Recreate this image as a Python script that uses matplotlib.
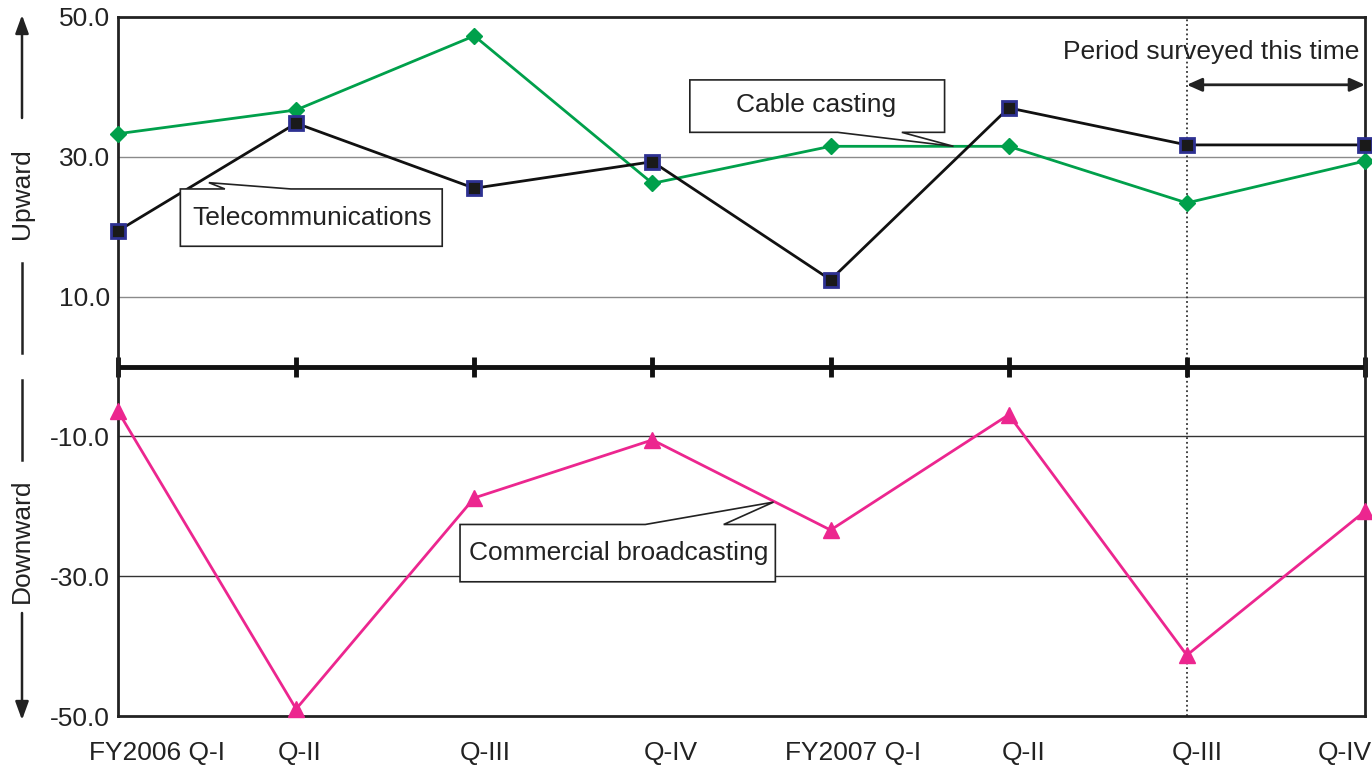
import numpy as np
import matplotlib
matplotlib.use("Agg")
import matplotlib.pyplot as plt
from matplotlib.patches import Polygon
from matplotlib.transforms import ScaledTranslation

plt.rcParams["font.family"] = ["Liberation Sans", "DejaVu Sans"]

quarters = ["FY2006 Q-I", "Q-II", "Q-III", "Q-IV",
            "FY2007 Q-I", "Q-II", "Q-III", "Q-IV"]
telecom = [19.4, 34.8, 25.5, 29.3, 12.4, 37.0, 31.7, 31.7]
cable = [33.3, 36.7, 47.3, 26.2, 31.5, 31.5, 23.4, 29.4]
broadcast = [-6.4, -49.0, -18.8, -10.5, -23.4, -6.9, -41.3, -20.7]
yticks = [50, 30, 10, -10, -30, -50]
survey_start = 6

GREEN = "#00a04b"
MAGENTA = "#ec268f"
NAVY = "#2e3192"
INK = "#222222"
FS = 19

x = np.arange(len(quarters))

fig = plt.figure(figsize=(13.72, 7.65), dpi=100)
ax = fig.add_axes([118 / 1372, 49 / 765, 1247 / 1372, 699 / 765])

for yv in yticks[1:-1]:
    ax.axhline(yv, color="#8a8a8a" if yv > 0 else "#333333", lw=1.0, zorder=1)

ax.axvline(survey_start, color="#333333", lw=1.3, ls=(0, (1, 1.6)), zorder=1)

ax.axhline(0, color="#111111", lw=3.5, zorder=2)
ax.plot(x, np.zeros(len(x)), ls="none", marker="|", ms=14, mew=3.5,
        color="#111111", zorder=2, clip_on=False)

ax.plot(x, cable, color=GREEN, lw=2, marker="D", ms=8, mfc=GREEN, mec=GREEN,
        zorder=4, clip_on=False)
ax.plot(x, telecom, color="#111111", lw=2, marker="s", ms=10, mfc="#1a1a1a",
        mec=NAVY, mew=2, zorder=5, clip_on=False)
ax.plot(x, broadcast, color=MAGENTA, lw=2, marker="^", ms=11, mfc=MAGENTA,
        mec=MAGENTA, zorder=4, clip_on=False)

ax.set_xlim(0, len(x) - 1)
ax.set_ylim(-50, 50)
ax.set_yticks(yticks)
ax.set_yticklabels([f"{v:.1f}" for v in yticks], fontsize=FS, color=INK)
ax.set_xticks(x)
ax.set_xticklabels(quarters, fontsize=FS, color=INK)
ax.tick_params(length=0, pad=6)
ax.tick_params(axis="x", pad=18)
offsets = [39, 3, 11, 18, 22, 15, 10, -20]
for lab, dx in zip(ax.get_xticklabels(), offsets):
    lab.set_transform(lab.get_transform() + ScaledTranslation(dx / 100, 0, fig.dpi_scale_trans))
for sp in ax.spines.values():
    sp.set_linewidth(2)
    sp.set_color(INK)

# period surveyed
ax.text(len(x) - 1.03, 45.0, "Period surveyed this time", ha="right",
        va="center", fontsize=FS, color=INK, zorder=6)
ax.annotate("", xy=(len(x) - 1, 40.3), xytext=(survey_start, 40.3),
            arrowprops=dict(arrowstyle="<|-|>,head_length=0.9,head_width=0.4",
                            color=INK, lw=2, shrinkA=0, shrinkB=0))

# callouts: label, text centre, outline (box with a wedge pointing at the line)
callouts = [
    ("Cable casting", (3.92, 37.4),
     [(3.21, 41.0), (4.64, 41.0), (4.64, 33.5), (4.40, 33.5), (4.69, 31.5),
      (4.04, 33.5), (3.21, 33.5)]),
    ("Telecommunications", (1.09, 21.2),
     [(0.35, 25.4), (0.60, 25.4), (0.51, 26.3), (0.97, 25.4), (1.82, 25.4),
      (1.82, 17.2), (0.35, 17.2)]),
    ("Commercial broadcasting", (2.81, -26.7),
     [(1.92, -22.6), (2.96, -22.6), (3.68, -19.4), (3.40, -22.6), (3.69, -22.6),
      (3.69, -30.8), (1.92, -30.8)]),
]
for label, pos, outline in callouts:
    ax.add_patch(Polygon(outline, closed=True, fc="white", ec=INK, lw=1.2,
                         zorder=7))
    ax.text(pos[0], pos[1], label, ha="center", va="center", fontsize=FS,
            color=INK, zorder=8)

# side labels with arrows
fig.text(22 / 1372, 1 - 194 / 765, "Upward", rotation=90, ha="center",
         va="center", fontsize=FS, color=INK)
fig.text(22 / 1372, 1 - 541 / 765, "Downward", rotation=90, ha="center",
         va="center", fontsize=FS, color=INK)
arrow_kw = dict(arrowstyle="-|>,head_length=1.1,head_width=0.4",
                color=INK, lw=1.8, shrinkA=0, shrinkB=0)
ax.annotate("", xy=(22, 765 - 15), xytext=(22, 765 - 118),
            xycoords="figure pixels", textcoords="figure pixels",
            arrowprops=arrow_kw)
ax.annotate("", xy=(22, 765 - 720), xytext=(22, 765 - 613),
            xycoords="figure pixels", textcoords="figure pixels",
            arrowprops=arrow_kw)
for y0, y1 in [(263, 353), (380, 460)]:
    fig.add_artist(plt.Line2D([22 / 1372, 22 / 1372],
                              [1 - y0 / 765, 1 - y1 / 765],
                              color=INK, lw=1.8))

fig.savefig("out.png", dpi=100)
